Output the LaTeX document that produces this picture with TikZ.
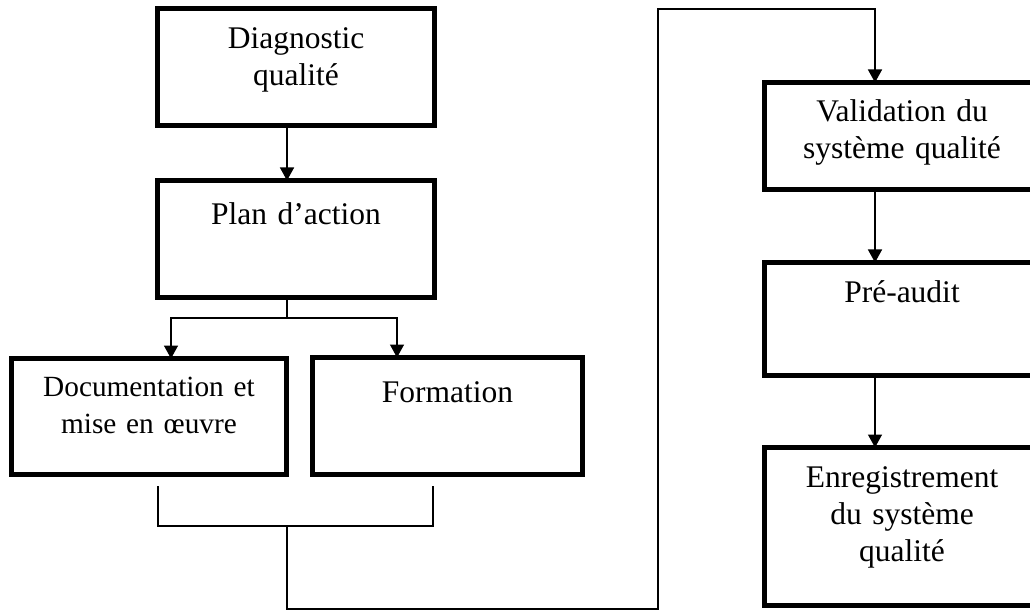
\documentclass[tikz,border=0pt]{standalone}
\usepackage{fontspec}
\setmainfont{Liberation Serif}
\usetikzlibrary{positioning,arrows.meta}

\begin{document}
\begin{tikzpicture}[x=1pt,y=-1pt,
  box/.style={draw,line width=5pt,inner sep=0pt,outer sep=0pt,align=center,anchor=north west},
  big/.style={font=\fontsize{31.5}{37}\selectfont},
  small/.style={font=\fontsize{29.3}{37}\selectfont},
  ln/.style={line width=1.5pt},
  arr/.style={ln,-{Triangle[width=14pt,length=13pt]}}]
\clip (0,0) rectangle (1030,612);
\foreach \n/\s/\x/\y/\w/\h/\d/\t in {
  diag/big/157.5/8.5/277/40/77/{Diagnostic\\qualité},
  plan/big/157.5/180.5/277/44.5/72.5/{Plan d’action},
  doc/small/11.5/358.5/275/37.5/78.5/{Documentation et\\mise en œuvre},
  form/big/312.5/357.5/270/44.5/72.5/{Formation},
  valid/big/764.5/82.5/275/39.5/67.5/{Validation du\\système qualité},
  pre/big/764.5/262.5/275/39.5/73.5/{Pré-audit},
  enr/big/764.5/447.5/275/39.5/118.5/{Enregistrement\\du système\\qualité}}{
    \node[box,\s,text width=\w pt,text height=\h pt,text depth=\d pt] (\n) at (\x,\y) {\t};
}
% trunks
\coordinate (tA) at (287,0);
\coordinate (vA) at (875,0);
\coordinate (sp) at (287,318);
\coordinate (dL) at (171,318);
\coordinate (dR) at (397,318);
\coordinate (bL) at (158,486);
\coordinate (bR) at (433,486);
\coordinate (bM) at (287,526);
\coordinate (lo) at (287,609);
\coordinate (up) at (658,9);
\draw[arr] (diag.south -| tA) -- (plan.north -| tA);
\draw[ln] (plan.south -| tA) -- (sp);
\draw[arr] (sp) -- (dL) -- (doc.north -| dL);
\draw[arr] (sp) -- (dR) -- (form.north -| dR);
% bracket below the two boxes
\draw[ln] (bL) -- ++(0,40) -| (bR);
\draw[arr] (bM) -- (lo) -| (up) -| (valid.north -| vA);
\draw[arr] (valid.south -| vA) -- (pre.north -| vA);
\draw[arr] (pre.south -| vA) -- (enr.north -| vA);
\end{tikzpicture}
\end{document}
